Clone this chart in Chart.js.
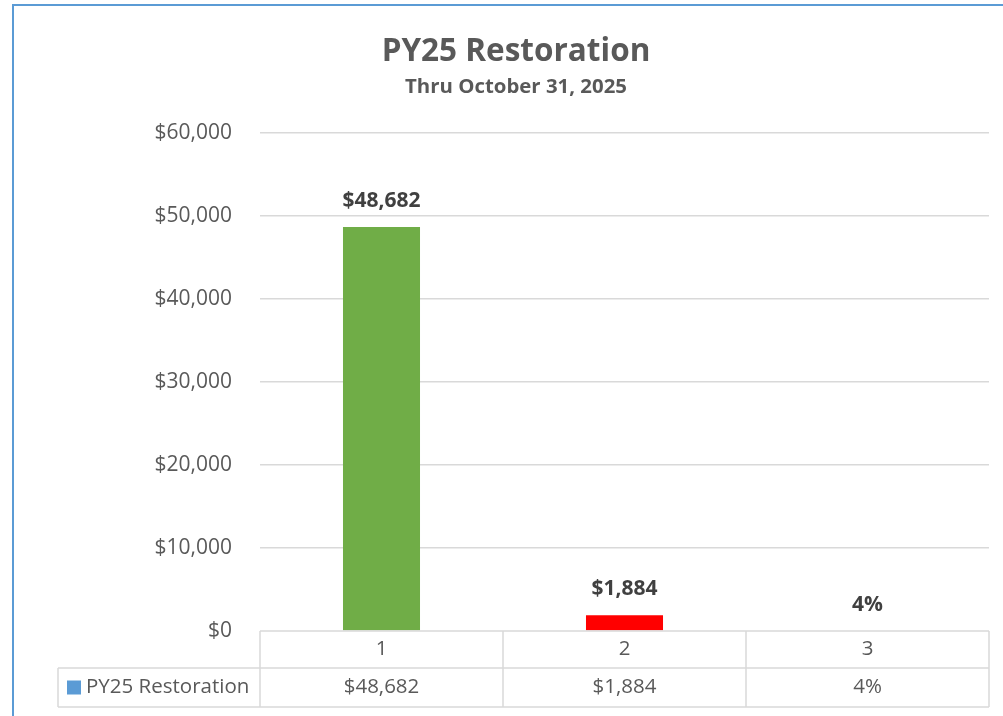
<!DOCTYPE html>
<html>
<head>
<meta charset="utf-8">
<title>PY25 Restoration</title>
<script src="https://cdn.jsdelivr.net/npm/chart.js@4.4.1/dist/chart.umd.min.js"></script>
<style>
    html, body { margin: 0; padding: 0; background: #fff; overflow: hidden; }
    #wrap { position: relative; width: 1003px; height: 716px; }
    #frame {
        position: absolute; left: 12px; top: 4px; right: -10px; bottom: -10px;
        border-left: 2px solid #5B9BD5; border-top: 2px solid #5B9BD5;
        pointer-events: none;
    }
</style>
</head>
<body>
<div id="wrap">
    <canvas id="restorationChart"></canvas>
    <div id="frame"></div>
</div>
<script>
// --- Chart data ---
const categories = ['1', '2', '3'];
const seriesName = 'PY25 Restoration';
const values = [48682, 1884, 4];
const valueLabels = ['$48,682', '$1,884', '4%'];
const barColors = ['#70AD47', '#FF0000', 'rgba(91,155,213,0)'];
const yTickValues = [0, 10000, 20000, 30000, 40000, 50000, 60000];

const GRID = '#D9D9D9';
const TEXT = '#595959';
const FONT = "'Open Sans', 'DejaVu Sans', sans-serif";

// Data labels above each bar
const barLabels = {
    id: 'barLabels',
    afterDatasetsDraw(chart) {
        const { ctx } = chart;
        const meta = chart.getDatasetMeta(0);
        ctx.save();
        ctx.font = `bold 21px ${FONT}`;
        ctx.fillStyle = '#404040';
        ctx.textAlign = 'center';
        ctx.textBaseline = 'middle';
        meta.data.forEach((bar, i) => {
            ctx.fillText(valueLabels[i], bar.x, bar.y - 26);
        });
        ctx.restore();
    }
};

// Excel-style data table under the plot area
const dataTable = {
    id: 'dataTable',
    afterDraw(chart) {
        const { ctx, chartArea } = chart;
        const x = chart.scales.x;
        const half = (chartArea.right - chartArea.left) / categories.length / 2;
        const top = chartArea.bottom;
        const mid = top + 37;
        const bottom = top + 76;
        const legendLeft = 58;

        ctx.save();
        ctx.strokeStyle = GRID;
        ctx.lineWidth = 1.5;
        ctx.beginPath();
        // horizontal lines
        ctx.moveTo(chartArea.left, top); ctx.lineTo(chartArea.right, top);
        ctx.moveTo(legendLeft, mid); ctx.lineTo(chartArea.right, mid);
        ctx.moveTo(legendLeft, bottom); ctx.lineTo(chartArea.right, bottom);
        // vertical lines
        ctx.moveTo(legendLeft, mid); ctx.lineTo(legendLeft, bottom);
        categories.forEach((c, i) => {
            const cx = x.getPixelForValue(i);
            ctx.moveTo(cx - half, top); ctx.lineTo(cx - half, bottom);
            if (i === categories.length - 1) {
                ctx.moveTo(cx + half, top); ctx.lineTo(cx + half, bottom);
            }
        });
        ctx.stroke();

        ctx.font = `20.5px ${FONT}`;
        ctx.fillStyle = TEXT;
        ctx.textBaseline = 'middle';
        ctx.textAlign = 'center';
        categories.forEach((c, i) => {
            const cx = x.getPixelForValue(i);
            ctx.fillText(c, cx, (top + mid) / 2);
            ctx.fillText(valueLabels[i], cx, (mid + bottom) / 2);
        });

        // legend key + series name
        ctx.fillStyle = '#5B9BD5';
        ctx.fillRect(67, (mid + bottom) / 2 - 7, 14, 14);
        ctx.fillStyle = TEXT;
        ctx.textAlign = 'left';
        ctx.fillText(seriesName, 86, (mid + bottom) / 2);
        ctx.restore();
    }
};

document.addEventListener('DOMContentLoaded', () => {
    const ctx = document.getElementById('restorationChart');

    new Chart(ctx, {
        type: 'bar',
        data: {
            labels: categories,
            datasets: [{
                label: seriesName,
                data: values,
                backgroundColor: barColors,
                borderWidth: 0,
                categoryPercentage: 1,
                barPercentage: 0.317
            }]
        },
        options: {
            responsive: true,
            maintainAspectRatio: false,
            animation: false,
            layout: {
                padding: { left: 43, right: 14, top: 0, bottom: 85 }
            },
            plugins: {
                legend: { display: false },
                tooltip: { enabled: false },
                title: {
                    display: true,
                    text: 'PY25 Restoration',
                    color: TEXT,
                    font: { family: FONT, size: 31.5, weight: 'bold' },
                    padding: { top: 33, bottom: 2 }
                },
                subtitle: {
                    display: true,
                    text: 'Thru October 31, 2025',
                    color: TEXT,
                    font: { family: FONT, size: 20.4, weight: 'bold' },
                    padding: { top: 2, bottom: 33.7 }
                }
            },
            scales: {
                x: {
                    display: false
                },
                y: {
                    min: 0,
                    max: 60000,
                    afterBuildTicks: scale => {
                        scale.ticks = yTickValues.map(v => ({ value: v }));
                    },
                    afterFit: scale => { scale.width = 217; },
                    border: { display: false },
                    grid: {
                        color: ctx => ctx.tick && ctx.tick.value === 0 ? 'rgba(0,0,0,0)' : GRID,
                        lineWidth: 1.5,
                        drawTicks: false
                    },
                    ticks: {
                        color: TEXT,
                        padding: 28,
                        font: { family: FONT, size: 21 },
                        callback: v => '$' + Number(v).toLocaleString('en-US')
                    }
                }
            }
        },
        plugins: [barLabels, dataTable]
    });
});
</script>
</body>
</html>
